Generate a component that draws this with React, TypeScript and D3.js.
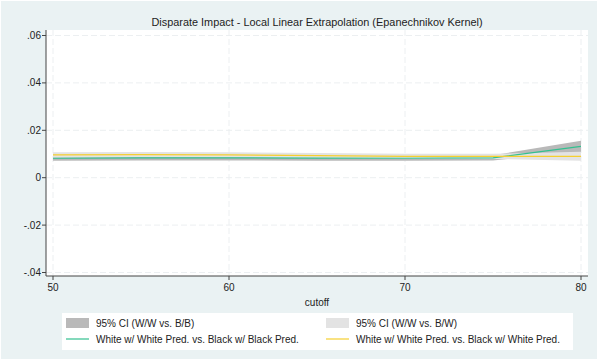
import * as d3 from 'd3';

// cutoff values at which the local linear fit was evaluated
const cutoffs = [50, 55, 60, 65, 70, 75, 80];

// White w/ White Pred. vs. Black w/ Black Pred.
const wwBB = [0.0082, 0.0084, 0.0084, 0.0083, 0.0082, 0.0084, 0.0132];
const ciBBLow = [0.0072, 0.0073, 0.0073, 0.0072, 0.0071, 0.0073, 0.0108];
const ciBBHigh = [0.0094, 0.0095, 0.0095, 0.0094, 0.0093, 0.0095, 0.0156];

// White w/ White Pred. vs. Black w/ White Pred.
const wwBW = [0.0096, 0.0097, 0.0096, 0.0093, 0.009, 0.009, 0.009];
const ciBWLow = [0.0084, 0.0086, 0.0085, 0.0082, 0.0079, 0.0079, 0.0071];
const ciBWHigh = [0.0107, 0.0108, 0.0107, 0.0104, 0.0101, 0.0101, 0.0109];

const xTicks = [50, 60, 70, 80];
const yTicks = [0.06, 0.04, 0.02, 0, -0.02, -0.04];
const yTickLabels = ['.06', '.04', '.02', '0', '-.02', '-.04'];

const legendLabels = [
  '95% CI (W/W vs. B/B)',
  '95% CI (W/W vs. B/W)',
  'White w/ White Pred. vs. Black w/ Black Pred.',
  'White w/ White Pred. vs. Black w/ White Pred.',
];

const W = 598;
const H = 360;
const plot = { left: 46, right: 588, top: 30, bottom: 276 };
const font = 'Arial, "Liberation Sans", sans-serif';

const DARK = '#b9b9b9';
const LIGHT = '#e3e3e3';
const GREEN = '#33c08f';
const YELLOW = '#f5cf2f';

export default function App() {
  const x = d3.scaleLinear().domain([50, 80]).range([53, 581]);
  const y = d3.scaleLinear().domain([-0.04, 0.06]).range([272.5, 35.5]);

  const band = (lo: number[], hi: number[]) =>
    d3.area<number>()
      .x((_, i) => x(cutoffs[i]))
      .y0((_, i) => y(lo[i]))
      .y1((_, i) => y(hi[i]))(cutoffs) || '';

  const line = (vals: number[]) =>
    d3.line<number>()
      .x((_, i) => x(cutoffs[i]))
      .y((_, i) => y(vals[i]))(cutoffs) || '';

  const legend = { x: 62, y: 313, w: 511, h: 37 };
  const cols = [legend.x + 4, legend.x + 264];
  const rows = [legend.y + 10, legend.y + 26];

  return (
    <svg width={W} height={H} style={{ position: 'absolute', left: 0, top: 0 }}>
      <rect x={0} y={0} width={W} height={H} fill="#fff" />
      <rect x={1} y={1} width={W - 2} height={H - 2} fill="#eaf2f3" />
      <rect
        x={plot.left}
        y={plot.top}
        width={plot.right - plot.left}
        height={plot.bottom - plot.top}
        fill="#fff"
      />

      {/* grid */}
      <g stroke="#eceff1" strokeWidth={1} strokeDasharray="6,3">
        {yTicks.map(t => (
          <line key={'gy' + t} x1={plot.left} x2={plot.right} y1={y(t)} y2={y(t)} />
        ))}
        {xTicks.map(t => (
          <line key={'gx' + t} x1={x(t)} x2={x(t)} y1={plot.top} y2={plot.bottom} />
        ))}
      </g>

      {/* bands and lines */}
      <path d={band(ciBBLow, ciBBHigh)} fill={DARK} />
      <path d={band(ciBWLow, ciBWHigh)} fill={LIGHT} />
      <path d={line(wwBB)} fill="none" stroke={GREEN} strokeWidth={1.2} />
      <path d={line(wwBW)} fill="none" stroke={YELLOW} strokeWidth={1.2} />

      {/* axes */}
      <g fontFamily={font} fontSize={10} fill="#222">
        <line x1={plot.left} x2={plot.left} y1={plot.top} y2={plot.bottom} stroke="#444" />
        <line x1={plot.left} x2={plot.right} y1={plot.bottom} y2={plot.bottom} stroke="#444" />
        {yTicks.map((t, i) => (
          <g key={'y' + t}>
            <line x1={plot.left - 4} x2={plot.left} y1={y(t)} y2={y(t)} stroke="#444" />
            <text x={plot.left - 5} y={y(t)} dy="0.35em" textAnchor="end">
              {yTickLabels[i]}
            </text>
          </g>
        ))}
        {xTicks.map(t => (
          <g key={'x' + t}>
            <line x1={x(t)} x2={x(t)} y1={plot.bottom} y2={plot.bottom + 4} stroke="#444" />
            <text x={x(t)} y={plot.bottom + 15} textAnchor="middle">
              {t}
            </text>
          </g>
        ))}
        <text x={(plot.left + plot.right) / 2} y={plot.bottom + 30} textAnchor="middle">
          cutoff
        </text>
        <text x={317} y={26} textAnchor="middle" fontSize={10.9}>
          Disparate Impact - Local Linear Extrapolation (Epanechnikov Kernel)
        </text>
      </g>

      {/* legend */}
      <g fontFamily={font} fontSize={10} fill="#222">
        <rect x={legend.x} y={legend.y} width={legend.w} height={legend.h} fill="#fff" />
        <rect x={cols[0]} y={rows[0] - 5} width={23} height={10} fill={DARK} />
        <rect x={cols[1]} y={rows[0] - 5} width={23} height={10} fill={LIGHT} />
        <line x1={cols[0]} x2={cols[0] + 23} y1={rows[1]} y2={rows[1]} stroke={GREEN} strokeWidth={1.2} />
        <line x1={cols[1]} x2={cols[1] + 23} y1={rows[1]} y2={rows[1]} stroke={YELLOW} strokeWidth={1.2} />
        <text x={cols[0] + 30} y={rows[0]} dy="0.35em">{legendLabels[0]}</text>
        <text x={cols[1] + 30} y={rows[0]} dy="0.35em">{legendLabels[1]}</text>
        <text x={cols[0] + 30} y={rows[1]} dy="0.35em">{legendLabels[2]}</text>
        <text x={cols[1] + 30} y={rows[1]} dy="0.35em">{legendLabels[3]}</text>
      </g>
    </svg>
  );
}
